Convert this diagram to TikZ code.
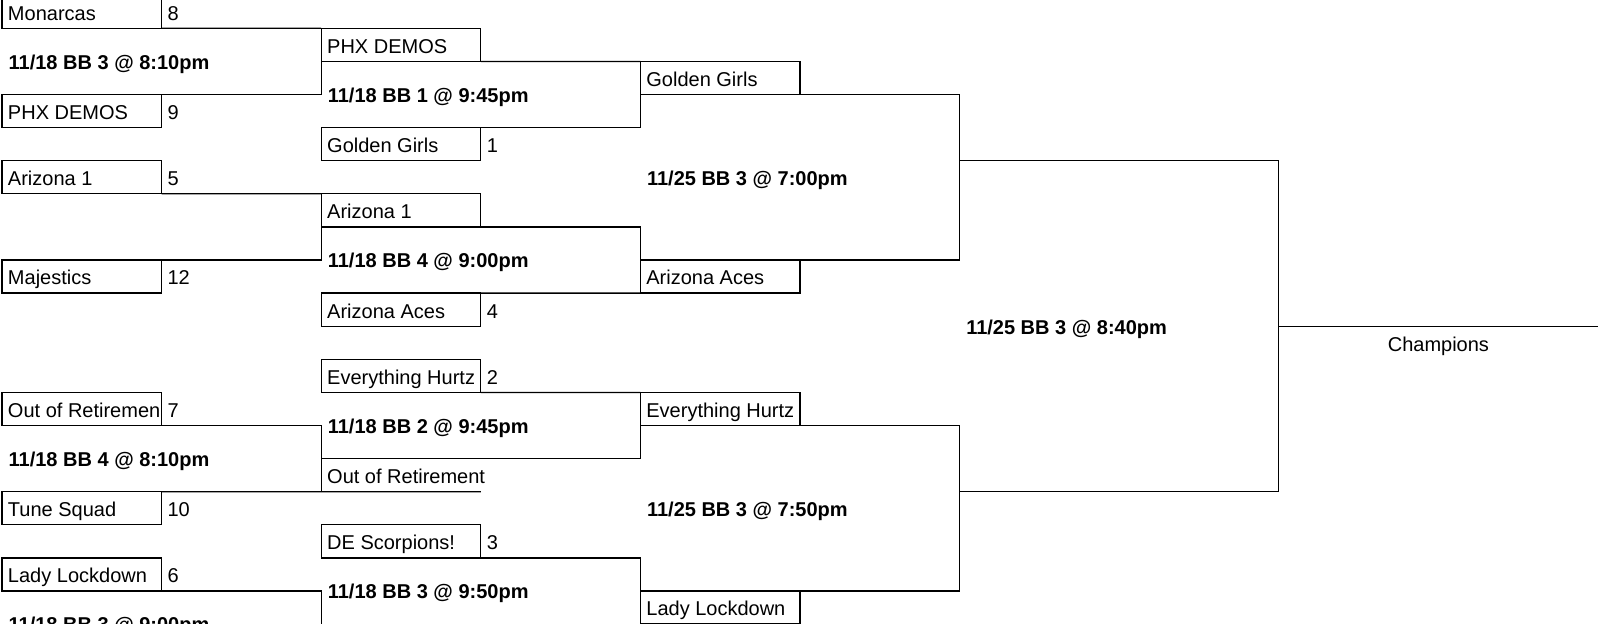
\documentclass[tikz,border=0pt]{standalone}
\usepackage{fontspec}
\setmainfont{Liberation Sans}
\newcommand{\teamcell}[1]{\makebox[73.8pt][l]{#1}}

\begin{document}
\begin{tikzpicture}[x=79.8pt, y=16.55pt, line width=0.65pt, line join=miter,
	cell/.style={minimum width=79.8pt, minimum height=16.55pt, inner sep=0pt, outer sep=0pt, text height=9.8pt, text depth=1.45pt},
	team/.style={cell, draw=black},
	game/.style={anchor=base west, inner sep=0pt, xshift=3pt, yshift=-3.9pt, font=\bfseries}]
	\clip (-1pt,-2.4pt) rectangle (799pt,-313.9pt);

	\draw (0.5,-0.5) node[team] (monarcas) {\teamcell{Monarcas}};
	\draw (1.5,-0.5) node[cell] (seedA) {\teamcell{8}};
	\draw (0,-2) node[game] (gameA) {11/18 BB 3 @ 8:10pm};
	\draw (0.5,-3.5) node[team] (phx) {\teamcell{PHX DEMOS}};
	\draw (1.5,-3.5) node[cell] (seedB) {\teamcell{9}};
	\draw (2.5,-1.5) node[team] (phxR) {\teamcell{PHX DEMOS}};
	\draw (2,-3) node[game] (gameB) {11/18 BB 1 @ 9:45pm};
	\draw (2.5,-4.5) node[team] (golden) {\teamcell{Golden Girls}};
	\draw (3.5,-4.5) node[cell] (seedC) {\teamcell{1}};
	\draw (4.5,-2.5) node[team] (goldenR) {\teamcell{Golden Girls}};

	\draw (0.5,-5.5) node[team] (arizona) {\teamcell{Arizona 1}};
	\draw (1.5,-5.5) node[cell] (seedD) {\teamcell{5}};
	\draw (0.5,-8.5) node[team] (majestics) {\teamcell{Majestics}};
	\draw (1.5,-8.5) node[cell] (seedE) {\teamcell{12}};
	\draw (2.5,-6.5) node[team] (arizonaR) {\teamcell{Arizona 1}};
	\draw (2,-8) node[game] (gameC) {11/18 BB 4 @ 9:00pm};
	\draw (2.5,-9.5) node[team] (aces) {\teamcell{Arizona Aces}};
	\draw (3.5,-9.5) node[cell] (seedF) {\teamcell{4}};
	\draw (4.5,-8.5) node[team] (acesR) {\teamcell{Arizona Aces}};
	\draw (4,-5.5) node[game] (gameD) {11/25 BB 3 @ 7:00pm};

	\draw (6,-10) node[game] (gameE) {11/25 BB 3 @ 8:40pm};
	\draw (9,-10.5) node[cell, minimum width=159.6pt] (champions) {Champions};

	\draw (2.5,-11.5) node[team] (hurtz) {\teamcell{Everything Hurtz}};
	\draw (3.5,-11.5) node[cell] (seedG) {\teamcell{2}};
	\draw (0.5,-12.5) node[team] (retired) {\teamcell{Out of Retiremen}};
	\draw (1.5,-12.5) node[cell] (seedH) {\teamcell{7}};
	\draw (0,-14) node[game] (gameF) {11/18 BB 4 @ 8:10pm};
	\draw (0.5,-15.5) node[team] (tune) {\teamcell{Tune Squad}};
	\draw (1.5,-15.5) node[cell] (seedI) {\teamcell{10}};
	\draw (2,-13) node[game] (gameG) {11/18 BB 2 @ 9:45pm};
	\draw (2.5,-14.5) node[cell] (retiredR) {\teamcell{Out of Retirement}};
	\draw (4.5,-12.5) node[team] (hurtzR) {\teamcell{Everything Hurtz}};
	\draw (4,-15.5) node[game] (gameH) {11/25 BB 3 @ 7:50pm};

	\draw (2.5,-16.5) node[team] (scorpions) {\teamcell{DE Scorpions!}};
	\draw (3.5,-16.5) node[cell] (seedJ) {\teamcell{3}};
	\draw (0.5,-17.5) node[team] (lady) {\teamcell{Lady Lockdown}};
	\draw (1.5,-17.5) node[cell] (seedK) {\teamcell{6}};
	\draw (2,-18) node[game] (gameI) {11/18 BB 3 @ 9:50pm};
	\draw (0,-19) node[game] (gameJ) {11/18 BB 3 @ 9:00pm};
	\draw (4.5,-18.5) node[team] (ladyR) {\teamcell{Lady Lockdown}};

	\coordinate (semiA) at (6,-5);
	\coordinate (semiB) at (6,-15);
	\coordinate (final) at (8,-10);
	\coordinate (finalEnd) at (10,-10);
	\coordinate (ladyEnd) at (2,-20);

	\draw (monarcas.south east) -- (phxR.north west);
	\draw (phx.north east) -| (phxR.north west);
	\draw (phxR.south east) -- (goldenR.north west);
	\draw (golden.north east) -| (goldenR.south west);

	\draw (arizona.south east) -- (arizonaR.north west);
	\draw (majestics.north east) -| (arizonaR.north west);
	\draw (arizonaR.south east) -| (acesR.north west);
	\draw (aces.north east) -- (acesR.south west);

	\draw (goldenR.south east) -| (semiA);
	\draw (acesR.north east) -| (semiA);
	\draw (semiA) -| (final);
	\draw (semiB) -| (final);
	\draw (final) -- (finalEnd);

	\draw (retired.south east) -| (retiredR.south west);
	\draw (tune.north east) -- (retiredR.south east);
	\draw (hurtz.south east) -- (hurtzR.north west);
	\draw (retiredR.north west) -| (hurtzR.south west);
	\draw (hurtzR.south east) -| (semiB);
	\draw (ladyR.north east) -| (semiB);

	\draw (scorpions.south east) -| (ladyR.north west);
	\draw (lady.south east) -| (ladyEnd);
\end{tikzpicture}
\end{document}
